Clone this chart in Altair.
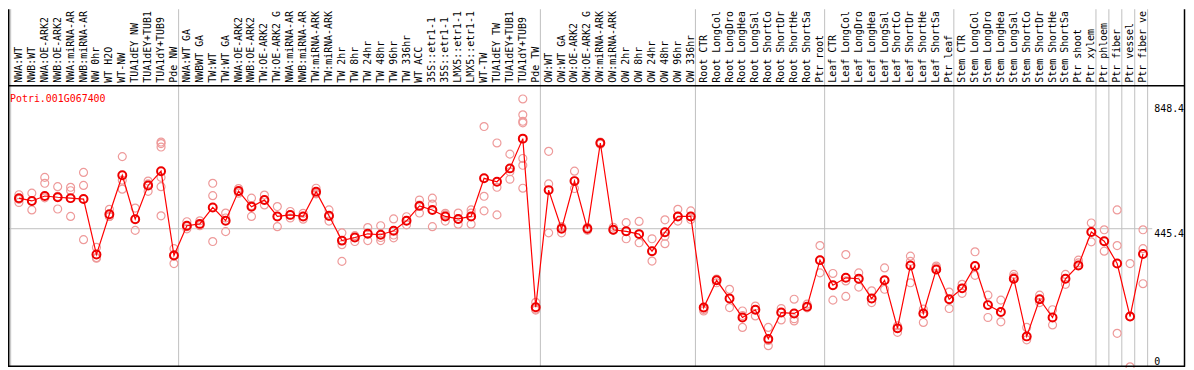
import altair as alt
import pandas as pd

gene = "Potri.001G067400"

labels = [
    "NWA:WT", "NWB:WT", "NWA:OE-ARK2", "NWB:OE-ARK2", "NWA:miRNA-ARK2", "NWB:miRNA-ARK2",
    "NW 0hr", "WT H2O", "WT-NW", "TUA1dEY NW", "TUA1dEY+TUB15 NW", "TUA1dY+TUB9 NW", "Pde NW",
    "NWA:WT GA", "NWBWT GA", "TW:WT", "TW:WT GA", "NWA:OE-ARK2 GA", "NWB:OE-ARK2 GA",
    "TW:OE-ARK2", "TW:OE-ARK2 GA", "NWA:miRNA-ARK2 GA", "NWB:miRNA-ARK2 GA", "TW:miRNA-ARK2",
    "TW:miRNA-ARK2 GA", "TW 2hr", "TW 8hr", "TW 24hr", "TW 48hr", "TW 96hr", "TW 336hr",
    "WT ACC", "35S::etr1-1 H2O", "35S::etr1-1 ACC", "LMX5::etr1-1 H2O", "LMX5::etr1-1 ACC",
    "WT-TW", "TUA1dEY TW", "TUA1dEY+TUB15 TW", "TUA1dY+TUB9 TW", "Pde TW",
    "OW:WT", "OW:WT GA", "OW:OE-ARK2", "OW:OE-ARK2 GA", "OW:miRNA-ARK2", "OW:miRNA-ARK2 GA",
    "OW 2hr", "OW 8hr", "OW 24hr", "OW 48hr", "OW 96hr", "OW 336hr",
    "Root CTR", "Root LongCold", "Root LongDrought", "Root LongHeat", "Root LongSalt",
    "Root ShortCold", "Root ShortDrought", "Root ShortHeat", "Root ShortSalt", "Ptr root",
    "Leaf CTR", "Leaf LongCold", "Leaf LongDrought", "Leaf LongHeat", "Leaf LongSalt",
    "Leaf ShortCold", "Leaf ShortDrought", "Leaf ShortHeat", "Leaf ShortSalt", "Ptr leaf",
    "Stem CTR", "Stem LongCold", "Stem LongDrought", "Stem LongHeat", "Stem LongSalt",
    "Stem ShortCold", "Stem ShortDrought", "Stem ShortHeat", "Stem ShortSalt", "Ptr shoot",
    "Ptr xylem", "Ptr phloem", "Ptr fiber", "Ptr vessel", "Ptr fiber vessel",
]

means = [
    544, 535, 551, 547, 544, 541, 362, 492, 618, 476, 585, 631, 359,
    455, 461, 514, 471, 567, 516, 538, 485, 490, 485, 565, 487, 407, 417, 429, 426, 439,
    471, 519, 506, 485, 477, 485, 608, 597, 640, 736, 192,
    570, 445, 599, 445, 722, 442, 437, 428, 373, 434, 485, 485,
    191, 279, 220, 159, 184, 90, 175, 172, 194, 344,
    263, 287, 284, 220, 279, 124, 327, 172, 314, 218,
    253, 325, 199, 177, 284, 98, 218, 159, 284, 327, 435,
    405, 333, 162, 364,
]

replicates = [
    [555, 540, 530], [560, 506, 535], [611, 592, 545], [581, 509, 550], [579, 568, 485],
    [627, 585, 410], [385, 352, 350], [508, 485, 485], [678, 602, 573], [512, 476, 440],
    [599, 590, 566], [725, 720, 709, 611, 581, 487], [381, 333, 362],
    [468, 445, 452], [471, 455, 458], [592, 552, 404], [496, 436, 480], [575, 565, 560],
    [544, 485, 520], [554, 522, 538], [517, 485, 452], [501, 480, 490], [495, 476, 485],
    [576, 560, 558], [506, 470, 485], [432, 394, 340], [423, 404, 417], [449, 407, 430],
    [455, 407, 417], [477, 416, 425], [484, 458, 471], [538, 496, 522], [544, 525, 452],
    [490, 470, 495], [496, 460, 477], [506, 496, 460], [775, 550, 503], [722, 579, 490],
    [686, 629, 605], [864, 813, 792, 787, 672, 650, 576], [208, 183, 186],
    [695, 590, 432], [432, 450, 452], [631, 599, 575], [445, 440, 450], [722, 718, 725],
    [442, 440, 450], [465, 413, 437], [469, 400, 428], [413, 341, 373], [474, 421, 397],
    [508, 470, 485], [503, 475, 485],
    [180, 191, 185], [271, 279, 283], [250, 191, 220], [180, 127, 165], [196, 164, 184],
    [127, 68, 85], [188, 151, 175], [218, 148, 155], [202, 194, 190], [391, 303, 344],
    [301, 215, 263], [362, 277, 227], [303, 257, 284], [245, 207, 220], [319, 250, 279],
    [132, 111, 124], [357, 271, 340], [186, 143, 172], [325, 320, 314], [241, 188, 218],
    [266, 237, 253], [371, 295, 325], [231, 159, 199], [215, 145, 177], [298, 284, 290],
    [127, 87, 98], [231, 207, 218], [184, 135, 159], [298, 266, 284], [344, 327, 335],
    [464, 403, 435],
    [442, 373, 405], [506, 391, 108], [333, 0, 162], [442, 381, 268],
]

group_ends = [-1, 12, 40, 52, 62, 72, 83, 84, 85, 86, 87]
ref_line = [445.4]
tick_values = [848.4, 445.4, 0]
tick_text = ["848.4", "445.4", "0"]
tick_baseline = ["top", "top", "bottom"]

W, H = 1186, 360
FONT = "DejaVu Sans Mono"

idx = list(range(len(labels)))
df_mean = pd.DataFrame({"i": idx, "label": labels, "v": means})
df_rep = pd.DataFrame([{"i": i, "v": v} for i, vs in enumerate(replicates) for v in vs])
df_sep = pd.DataFrame({"b": [g + 0.36 for g in group_ends]})
df_ref = pd.DataFrame({"v": ref_line})
df_ticks = pd.DataFrame({"v": tick_values, "t": tick_text, "bl": tick_baseline})

xs = alt.Scale(domain=[-0.8456, 90.329], nice=False, zero=False)
ys = alt.Scale(domain=[0, 1153.5], nice=False)
X = lambda f: alt.X(f, type="quantitative", scale=xs, axis=None)
Y = lambda f: alt.Y(f, type="quantitative", scale=ys, axis=None)

seps = alt.Chart(df_sep).mark_rule(color="#c0c0c0", strokeWidth=1).encode(
    x=X("b"), y=alt.value(0), y2=alt.value(H)
)
ref = alt.Chart(df_ref).mark_rule(color="#c0c0c0", strokeWidth=1).encode(
    y=Y("v"), x=alt.value(0), x2=alt.value(1152)
)
frame_df = pd.DataFrame({"k": [0]})
top_line = alt.Chart(frame_df).mark_rule(color="black", strokeWidth=1.5).encode(
    y=alt.value(77), x=alt.value(0), x2=alt.value(1185)
)
bottom_line = alt.Chart(frame_df).mark_rule(color="black", strokeWidth=1.5).encode(
    y=alt.value(359.5), x=alt.value(0), x2=alt.value(1185)
)
left_line = alt.Chart(frame_df).mark_rule(color="black", strokeWidth=1.5).encode(
    x=alt.value(0.75), y=alt.value(0), y2=alt.value(H)
)
right_line = alt.Chart(frame_df).mark_rule(color="black", strokeWidth=1.5).encode(
    x=alt.value(1184.5), y=alt.value(0), y2=alt.value(H)
)

reps = alt.Chart(df_rep).mark_point(
    shape="circle", filled=False, color="#ee9a9a", size=64, strokeWidth=1.2, opacity=1
).encode(x=X("i"), y=Y("v"))

line = alt.Chart(df_mean).mark_line(color="#ff0000", strokeWidth=1.2).encode(
    x=X("i"), y=Y("v")
)
pts = alt.Chart(df_mean).mark_point(
    shape="circle", filled=False, color="#ee0000", size=64, strokeWidth=2, opacity=1
).encode(x=X("i"), y=Y("v"))

col_labels = alt.Chart(df_mean).mark_text(
    angle=270, align="left", baseline="middle", font=FONT, fontSize=10, color="black",
    limit=74, ellipsis="\u200b"
).encode(x=X("i"), y=alt.value(74), text="label:N")

title = alt.Chart(frame_df).mark_text(
    align="left", baseline="alphabetic", font=FONT, fontSize=10, color="#ff0000"
).encode(x=alt.value(2), y=alt.value(93), text=alt.value(gene))

ticks_top = alt.Chart(df_ticks[df_ticks["bl"] == "top"]).mark_text(
    align="left", baseline="top", font=FONT, fontSize=10, color="black"
).encode(x=alt.value(1154), y=Y("v"), text="t:N")
ticks_bottom = alt.Chart(df_ticks[df_ticks["bl"] == "bottom"]).mark_text(
    align="left", baseline="bottom", font=FONT, fontSize=10, color="black"
).encode(x=alt.value(1154), y=Y("v"), text="t:N")

chart = alt.layer(
    seps, ref, reps, line, pts, col_labels, title, ticks_top, ticks_bottom,
    top_line, bottom_line, left_line, right_line
).properties(
    width=W, height=H, padding=0, autosize=alt.AutoSizeParams(type="none"),
    background="white"
).configure_view(stroke=None)

chart.save("out.html", embed_options={"renderer": "svg", "actions": False})
